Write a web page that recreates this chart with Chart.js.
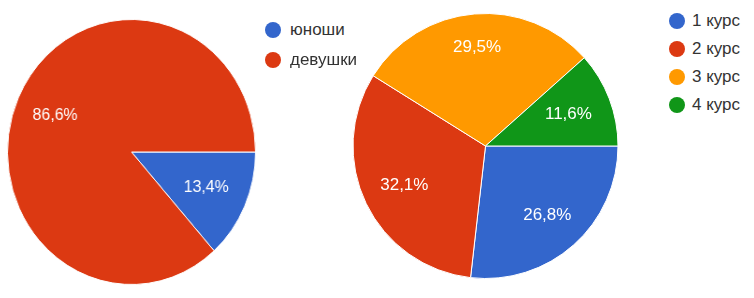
<!DOCTYPE html>
<html><head><meta charset="utf-8">
<script src="https://cdn.jsdelivr.net/npm/chart.js@4/dist/chart.umd.min.js"></script>
<style>
html,body{margin:0;padding:0;background:#fff;width:754px;height:298px;overflow:hidden;font-family:Arial,"Liberation Sans",sans-serif;}
#w1{position:absolute;left:7px;top:0;width:266px;height:298px;transform:scaleX(0.936);transform-origin:0 0;}
#w2{position:absolute;left:352px;top:0;width:267px;height:298px;}
.leg{position:absolute;font-size:17px;color:#333;}
.row{position:absolute;left:0;display:flex;align-items:center;white-space:nowrap;height:20px;}
.dot{width:16px;height:16px;border-radius:50%;flex:none;}
</style>
</head><body>
<div id="w1"><canvas id="c1" width="266" height="298"></canvas></div>
<div id="w2"><canvas id="c2" width="267" height="298"></canvas></div>
<div id="leg1" class="leg" style="left:265px;top:0;"></div>
<div id="leg2" class="leg" style="left:669px;top:0;"></div>
<script>
// ---- data ----
const genderLabels = ['юноши', 'девушки'];
const genderValues = [13.4, 86.6];
const courseLabels = ['1 курс', '2 курс', '3 курс', '4 курс'];
const courseValues = [26.8, 32.1, 29.5, 11.6];

const genderColors = ['#3366cc', '#dc3912'];
const courseColors = ['#3366cc', '#dc3912', '#ff9900', '#109618'];

const sliceLabels = {
  id: 'sliceLabels',
  afterDatasetsDraw(chart, args, opts) {
    const ctx = chart.ctx;
    const meta = chart.getDatasetMeta(0);
    const ds = chart.data.datasets[0];
    ctx.save();
    ctx.font = opts.font;
    ctx.fillStyle = '#ffffff';
    ctx.textAlign = 'center';
    ctx.textBaseline = 'middle';
    meta.data.forEach((arc, i) => {
      const p = arc.getProps(['x', 'y', 'startAngle', 'endAngle', 'outerRadius'], true);
      const mid = (p.startAngle + p.endAngle) / 2;
      const f = opts.radius[i];
      const txt = ds.data[i].toFixed(1).replace('.', ',') + '%';
      ctx.fillText(txt, p.x + Math.cos(mid) * p.outerRadius * f, p.y + Math.sin(mid) * p.outerRadius * f);
    });
    ctx.restore();
  }
};

function makePie(id, labels, values, colors, padding, radius) {
  return new Chart(document.getElementById(id), {
    type: 'pie',
    data: { labels: labels, datasets: [{ data: values, backgroundColor: colors, borderColor: '#ffffff', borderWidth: 1, hoverOffset: 0, offset: 0 }] },
    options: {
      responsive: false,
      devicePixelRatio: 1,
      animation: false,
      rotation: 90,
      layout: { padding: padding },
      plugins: {
        legend: { display: false },
        tooltip: { enabled: false },
        sliceLabels: { font: '17px Arial, "Liberation Sans", sans-serif', radius: radius }
      }
    },
    plugins: [sliceLabels]
  });
}

makePie('c1', genderLabels, genderValues, genderColors, { top: 19, bottom: 13, left: 0, right: 0 }, [0.66, 0.675]);
makePie('c2', courseLabels, courseValues, courseColors, { top: 13, bottom: 19, left: 0, right: 0 }, [0.70, 0.68, 0.75, 0.67]);

function makeLegend(id, labels, colors, firstCenter, step, gap) {
  const el = document.getElementById(id);
  labels.forEach((lab, i) => {
    const row = document.createElement('div');
    row.className = 'row';
    row.style.top = (firstCenter + i * step - 10) + 'px';
    const dot = document.createElement('span');
    dot.className = 'dot';
    dot.style.background = colors[i];
    dot.style.marginRight = gap + 'px';
    const t = document.createElement('span');
    t.textContent = lab;
    row.appendChild(dot);
    row.appendChild(t);
    el.appendChild(row);
  });
}
makeLegend('leg1', genderLabels, genderColors, 30, 30, 9);
makeLegend('leg2', courseLabels, courseColors, 21, 28, 7);
</script>
</body></html>
